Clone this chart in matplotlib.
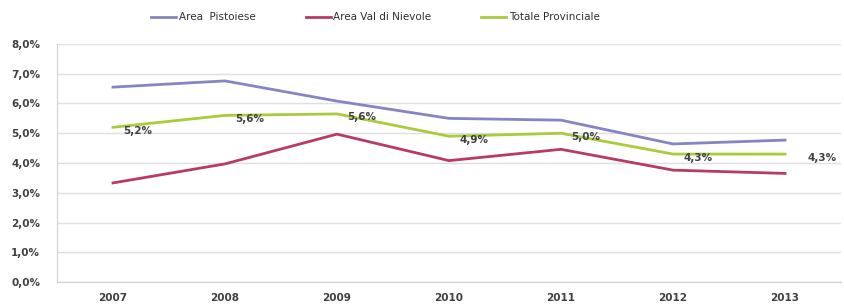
import matplotlib
matplotlib.use("Agg")
import matplotlib.pyplot as plt
from matplotlib.ticker import FuncFormatter

years = ["2007", "2008", "2009", "2010", "2011", "2012", "2013"]
pistoiese = [6.55, 6.76, 6.08, 5.50, 5.44, 4.64, 4.77]
nievole = [3.33, 3.97, 4.97, 4.08, 4.46, 3.76, 3.65]
totale = [5.2, 5.6, 5.65, 4.9, 5.0, 4.3, 4.3]
totale_labels = ["5,2%", "5,6%", "5,6%", "4,9%", "5,0%", "4,3%", "4,3%"]
yticks = [0, 1, 2, 3, 4, 5, 6, 7, 8]

plt.rcParams['font.family'] = ['DejaVu Sans']

fig = plt.figure(figsize=(8.44, 3.07), dpi=100)
ax = fig.add_axes([0.0675, 0.0814, 0.929, 0.7753])

x = list(range(len(years)))
ax.plot(x, pistoiese, color="#8585c4", lw=2, label="Area  Pistoiese")
ax.plot(x, nievole, color="#b83c62", lw=2, label="Area Val di Nievole")
ax.plot(x, totale, color="#a8cc3c", lw=2, label="Totale Provinciale")

for i, (v, t) in enumerate(zip(totale, totale_labels)):
    dx = 0.33 if i == len(years) - 1 else 0.22
    ax.annotate(t, (i, v), xytext=(i + dx, v - 0.12), textcoords="data",
                ha="center", va="center", fontsize=7.5, color="#404040",
                fontweight="bold")

ax.set_xlim(-0.5, len(years) - 0.5)
ax.set_ylim(0, 8)
ax.set_xticks(x)
ax.set_xticklabels(years)
ax.set_yticks(yticks)
ax.yaxis.set_major_formatter(FuncFormatter(lambda v, p: f"{v:.1f}%".replace(".", ",")))
ax.tick_params(axis="both", length=0, labelsize=7.5, colors="#404040")
ax.tick_params(axis="y", pad=12)
ax.tick_params(axis="x", pad=8)
for lbl in ax.get_xticklabels() + ax.get_yticklabels():
    lbl.set_fontweight("bold")
ax.grid(axis="y", color="#e0e0e0", lw=1)
ax.set_axisbelow(True)
for s in ["top", "right"]:
    ax.spines[s].set_visible(False)
for s in ["left", "bottom"]:
    ax.spines[s].set_color("#d0d0d0")

leg = fig.legend(loc="upper left", bbox_to_anchor=(0.168, 0.99), ncol=3, frameon=False,
                 fontsize=7.5, handlelength=2.4, handletextpad=0.25, columnspacing=4.8)
for t in leg.get_texts():
    t.set_color("#303030")

fig.savefig("out.png", dpi=100)
